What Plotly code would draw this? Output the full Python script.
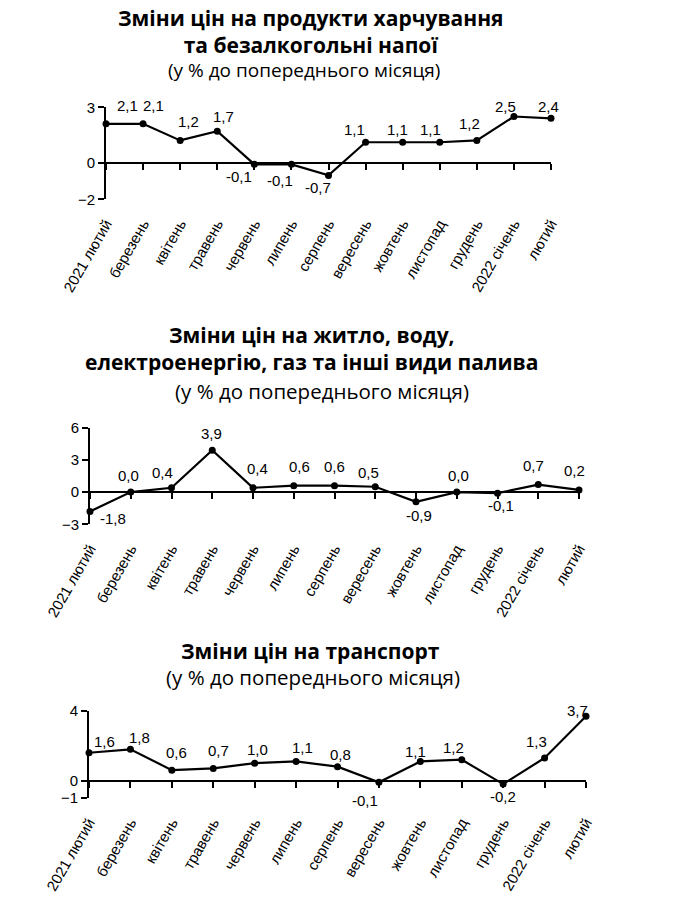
import plotly.graph_objects as go

# ---------------- data ----------------
months = ["2021 лютий", "березень", "квітень", "травень", "червень", "липень",
          "серпень", "вересень", "жовтень", "листопад", "грудень", "2022 січень", "лютий"]

food = [2.1, 2.1, 1.2, 1.7, -0.1, -0.1, -0.7, 1.1, 1.1, 1.1, 1.2, 2.5, 2.4]
housing = [-1.8, 0.0, 0.4, 3.9, 0.4, 0.6, 0.6, 0.5, -0.9, 0.0, -0.1, 0.7, 0.2]
transport = [1.6, 1.8, 0.6, 0.7, 1.0, 1.1, 0.8, -0.1, 1.1, 1.2, -0.2, 1.3, 3.7]

food_ticks = [-2, 0, 3]
housing_ticks = [-3, 0, 3, 6]
transport_ticks = [-1, 0, 4]

food_title = ["Зміни цін на продукти харчування", "та безалкогольні напої"]
housing_title = ["Зміни цін на житло, воду,", "електроенергію, газ та інші види палива"]
transport_title = ["Зміни цін на транспорт"]
subtitle = "(у % до попереднього місяця)"

# ---------------- label placement (pixel offsets, styling only) ----------------
food_off = [(22, -18), (10, -18), (8, -19), (6, -15), (-15, 12), (-11, 16), (-11, 12),
            (-11, -13), (-5, -13), (-9, -13), (-7, -17), (-8, -10), (-3, -12)]
housing_off = [(23, 7), (-2, -17), (-9, -15), (-1, -17), (4, -19), (6, -19), (0, -19),
               (-7, -14), (3, 14), (2, -17), (3, 12), (-5, -19), (-5, -19)]
transport_off = [(16, -11), (9, -12), (5, -18), (5, -18), (3, -14), (6, -14), (3, -12),
                 (-14, 18), (-5, -10), (-8, -12), (0, 12), (-8, -16), (-9, -6)]

# the page's body margin is removed by post_script, so the figure fills the window
W, H = 681, 917
TICK_FONT = dict(family="Liberation Sans, Arial, sans-serif", size=15, color="black")
TITLE_FONT = "Open Sans, sans-serif"


def fx(px):
    return px / W


def fy(py):
    return 1 - py / H


panels = [
    dict(vals=food, ticks=food_ticks, off=food_off, title=food_title,
         x0=106, x1=551, ytop=107.3, ybot=199.3,
         tbase=[27.3, 51.7], tx=311, sbase=77.3, sx=304, tsize=21, ssize=19),
    dict(vals=housing, ticks=housing_ticks, off=housing_off, title=housing_title,
         x0=90, x1=579, ytop=427.7, ybot=524.3,
         tbase=[343.3, 371.0], tx=311.5, sbase=399, sx=322, tsize=21, ssize=20.5),
    dict(vals=transport, ticks=transport_ticks, off=transport_off, title=transport_title,
         x0=89, x1=586, ytop=711, ybot=798,
         tbase=[659.3], tx=310, sbase=685, sx=312.5, tsize=21, ssize=20.5),
]

fig = go.Figure()
layout = dict(
    width=W, height=H,
    margin=dict(l=0, r=0, t=0, b=0, autoexpand=False),
    paper_bgcolor="white", plot_bgcolor="white",
    showlegend=False,
    annotations=[],
)

for i, p in enumerate(panels):
    n = i + 1
    m = n + 3
    vals = p["vals"]
    ticks = p["ticks"]
    r0, r1 = min(ticks), max(ticks)
    xd = [fx(p["x0"]), fx(p["x1"])]
    yd = [fy(p["ybot"]), fy(p["ytop"])]
    zero_pos = yd[0] + (0 - r0) / (r1 - r0) * (yd[1] - yd[0])

    # axis line with ticks at zero level
    layout[f"xaxis{n}"] = dict(
        domain=xd, type="category", categoryorder="array", categoryarray=months,
        range=[0, len(months) - 1], anchor="free", position=zero_pos,
        showline=True, linecolor="black", linewidth=2,
        ticks="outside", ticklen=6, tickwidth=2, tickcolor="black",
        showticklabels=False, showgrid=False, zeroline=False, fixedrange=True,
        automargin=False,
    )
    # category labels at the bottom of the panel
    layout[f"xaxis{m}"] = dict(
        domain=xd, type="category", categoryorder="array", categoryarray=months,
        range=[0, len(months) - 1], overlaying=f"x{n}", anchor=f"y{n}", side="bottom",
        showline=False, ticks="", showgrid=False, zeroline=False,
        tickangle=-60, tickfont=TICK_FONT, ticklabelstandoff=12, fixedrange=True,
        automargin=False,
    )
    layout[f"yaxis{n}"] = dict(
        domain=yd, anchor=f"x{n}", range=[r0, r1], tickmode="array", tickvals=ticks,
        showline=True, linecolor="black", linewidth=2,
        ticks="outside", ticklen=6, tickwidth=2, tickcolor="black",
        showgrid=False, zeroline=False, tickfont=TICK_FONT, fixedrange=True,
        automargin=False,
    )

    fig.add_trace(go.Scatter(
        x=months, y=vals, xaxis=f"x{n}", yaxis=f"y{n}",
        mode="lines+markers", line=dict(color="black", width=2.2),
        marker=dict(color="black", size=7), cliponaxis=False, hoverinfo="skip",
    ))
    fig.add_trace(go.Scatter(
        x=months, y=vals, xaxis=f"x{m}", yaxis=f"y{n}",
        mode="markers", marker=dict(opacity=0, size=1), hoverinfo="skip",
    ))

    for j, v in enumerate(vals):
        dx, dy = p["off"][j]
        layout["annotations"].append(dict(
            x=months[j], y=v, xref=f"x{n}", yref=f"y{n}",
            text=f"{v:.1f}".replace(".", ","), showarrow=False,
            xshift=dx, yshift=-dy, font=TICK_FONT,
            xanchor="center", yanchor="middle",
        ))

    base_mid = sum(p["tbase"]) / len(p["tbase"])
    layout["annotations"].append(dict(
        x=fx(p["tx"]), y=fy(base_mid - 0.39 * p["tsize"]),
        xref="paper", yref="paper",
        text="<br>".join(f"<b>{line}</b>" for line in p["title"]), showarrow=False,
        xanchor="center", yanchor="middle", align="center",
        font=dict(family=TITLE_FONT, size=p["tsize"], color="black"),
    ))
    layout["annotations"].append(dict(
        x=fx(p["sx"]), y=fy(p["sbase"] - 0.39 * p["ssize"]),
        xref="paper", yref="paper", text=subtitle, showarrow=False,
        xanchor="center", yanchor="middle",
        font=dict(family=TITLE_FONT, size=p["ssize"], color="black"),
    ))

fig.update_layout(**layout)
fig.write_html(
    "out.html",
    config={"displayModeBar": False, "staticPlot": True},
    post_script="document.body.style.margin='0';document.body.style.overflow='hidden';",
)
